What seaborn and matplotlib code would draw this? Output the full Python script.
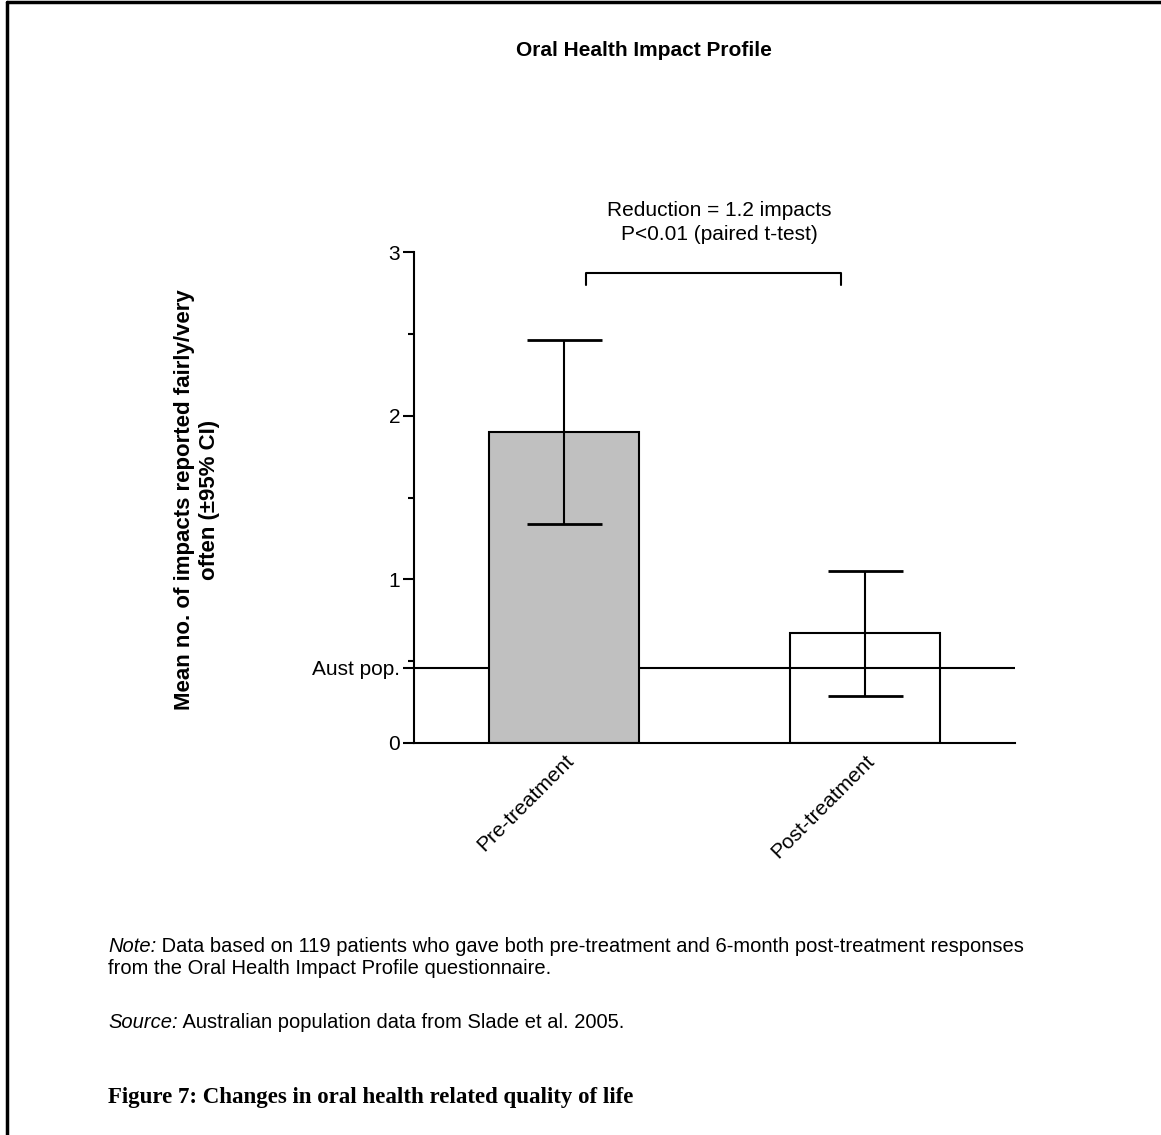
## import Libraries
import numpy as np
import pandas as pd
import matplotlib
matplotlib.use('Agg')
import matplotlib.pyplot as plt
import seaborn as sns
from matplotlib.lines import Line2D

## Data
groups = ['Pre-treatment', 'Post-treatment']
mean_impacts = [1.90, 0.67]
ci_low = [1.34, 0.29]
ci_high = [2.46, 1.05]
aust_pop = 0.46
bar_colours = ['#c0c0c0', 'white']

df = pd.DataFrame({'Group': groups, 'Mean': mean_impacts,
                   'Low': ci_low, 'High': ci_high})

sns.set_style('ticks')
plt.rcParams['font.family'] = ['Liberation Sans', 'DejaVu Sans']
plt.rcParams['text.color'] = 'black'
plt.rcParams['xtick.color'] = 'black'
plt.rcParams['ytick.color'] = 'black'
plt.rcParams['axes.edgecolor'] = 'black'

W, H = 1161, 1135
fig = plt.figure(figsize=(W / 100, H / 100), dpi=100)
ax = fig.add_axes([414 / W, 1 - 743 / H, 601 / W, 491 / H])

## Australian population reference line (behind the bars)
ax.axhline(aust_pop, color='black', lw=1.5, zorder=1)

## Bars
sns.barplot(data=df, x='Group', y='Mean', hue='Group', palette=bar_colours,
            legend=False, width=0.5, edgecolor='black', linewidth=1.5,
            errorbar=None, ax=ax, zorder=2)
ax.patches[1].set_facecolor('none')

## 95% CI error bars
x_pos = np.arange(len(groups))
yerr = [df['Mean'] - df['Low'], df['High'] - df['Mean']]
ax.errorbar(x_pos, df['Mean'], yerr=yerr, fmt='none', ecolor='black',
            elinewidth=1.5, capsize=27, capthick=2, zorder=3)

## Axes styling
ax.set_xlim(-0.5, 1.5)
ax.set_ylim(0, 3)
ax.set_yticks([0, aust_pop, 1, 2, 3])
ax.set_yticklabels(['0', 'Aust pop.', '1', '2', '3'])
ax.set_yticks([0.5, 1.5, 2.5], minor=True)
ax.tick_params(axis='y', which='major', length=8, width=1.5, labelsize=15, pad=2)
ax.tick_params(axis='y', which='minor', length=4, width=1.5)
ax.tick_params(axis='x', length=0, labelsize=15, pad=6)
plt.setp(ax.get_xticklabels(), rotation=45, ha='right', rotation_mode='anchor')
sns.despine(ax=ax)
for s in ['left', 'bottom']:
    ax.spines[s].set_linewidth(1.5)
ax.set_xlabel('')
ax.set_ylabel('')

## Significance bracket
left = x_pos[0] + 0.073
right = x_pos[1] - 0.08
ax.plot([left, left, right, right], [2.80, 2.87, 2.87, 2.80],
        color='black', lw=1.5, clip_on=False)
ax.text((left + right) / 2 + 0.02, 3.18,
        'Reduction = 1.2 impacts\nP<0.01 (paired t-test)',
        ha='center', va='center', fontsize=15, linespacing=1.35)

## Titles and labels
fig.text(644 / W, 1 - 50 / H, 'Oral Health Impact Profile', ha='center',
         va='center', fontsize=15, fontweight='bold')
fig.text(197 / W, 1 - 500 / H,
         'Mean no. of impacts reported fairly/very\noften (\u00b195% CI)',
         rotation=90, ha='center', va='center', fontsize=16,
         fontweight='bold', multialignment='center', linespacing=1.25)

## Notes
note_size = 14.5
note = fig.text(108 / W, 1 - 946 / H, 'Note:', style='italic',
                fontsize=note_size, va='center')
ax.annotate(' Data based on 119 patients who gave both pre-treatment and '
            '6-month post-treatment responses', xy=(1, 0.5), xycoords=note,
            ha='left', va='center', fontsize=note_size, annotation_clip=False)
fig.text(108 / W, 1 - 968 / H,
         'from the Oral Health Impact Profile questionnaire.',
         fontsize=note_size, va='center')
src = fig.text(108 / W, 1 - 1022 / H, 'Source:', style='italic',
               fontsize=note_size, va='center')
ax.annotate(' Australian population data from Slade et al. 2005.', xy=(1, 0.5),
            xycoords=src, ha='left', va='center', fontsize=note_size,
            annotation_clip=False)

## Figure caption
fig.text(108 / W, 1 - 1098 / H,
         'Figure 7: Changes in oral health related quality of life',
         fontsize=16.5, fontweight='bold', va='center',
         family=['Liberation Serif', 'DejaVu Serif'])

## Page border (left and top)
lw = 2.5
fig.add_artist(Line2D([7 / W, 7 / W], [0, 1 - 2 / H], transform=fig.transFigure,
                      color='black', lw=lw))
fig.add_artist(Line2D([7 / W, 1], [1 - 2 / H, 1 - 2 / H],
                      transform=fig.transFigure, color='black', lw=lw))

fig.savefig('out.png', dpi=100)
